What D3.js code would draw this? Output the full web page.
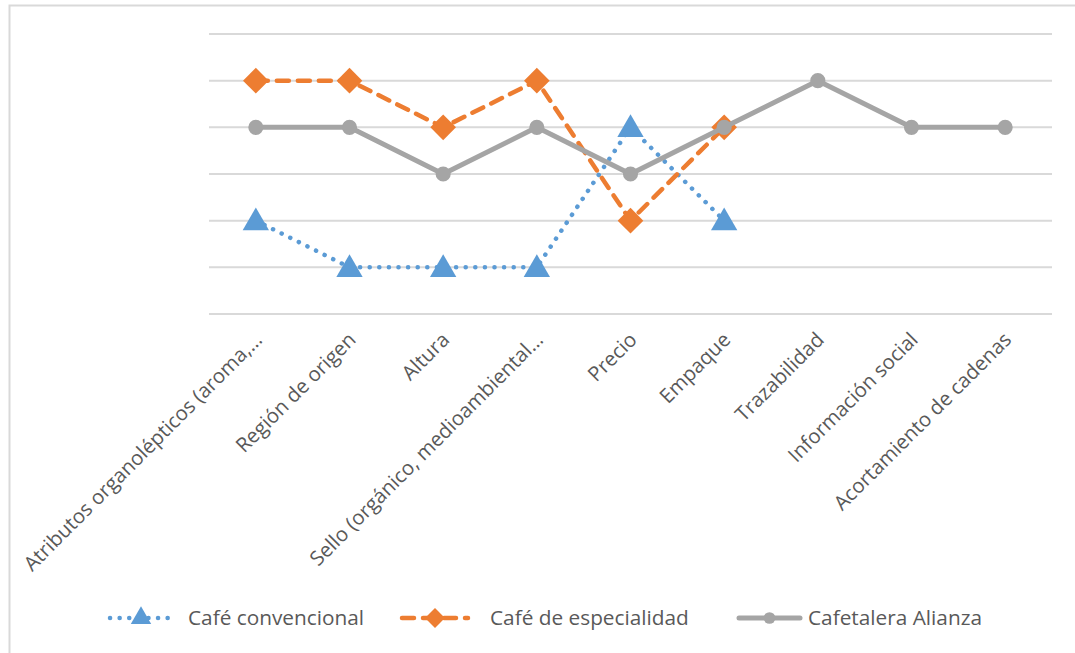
<!DOCTYPE html>
<html>
<head>
<meta charset="utf-8">
<script src="https://cdn.jsdelivr.net/npm/d3@7"></script>
<style>
  body { margin: 0; background: #fff; }
  text { font-family: "Open Sans", sans-serif; fill: #595959; }
</style>
</head>
<body>
<svg id="chart" width="1075" height="653"></svg>
<script>
// categories along the x axis
const categories = [
  "Atributos organolépticos (aroma,…",
  "Región de origen",
  "Altura",
  "Sello (orgánico, medioambiental…",
  "Precio",
  "Empaque",
  "Trazabilidad",
  "Información social",
  "Acortamiento de cadenas"
];

// series values (null = no value)
const convencional = [2, 1, 1, 1, 4, 2, null, null, null];
const especialidad = [5, 5, 4, 5, 2, 4, null, null, null];
const alianza = [4, 4, 3, 4, 3, 4, 5, 4, 4];

const yTicks = [0, 1, 2, 3, 4, 5, 6];

const series = [
  { name: "Café convencional", values: convencional, color: "#5B9BD5", dash: "0.1 9.5", width: 4.5, symbol: d3.symbolTriangle, size: 300 },
  { name: "Café de especialidad", values: especialidad, color: "#ED7D31", dash: "12 9", width: 4.5, symbol: d3.symbolDiamond2, size: 420 },
  { name: "Cafetalera Alianza", values: alianza, color: "#A5A5A5", dash: null, width: 5, symbol: d3.symbolCircle, size: 180 }
];

const svg = d3.select("#chart");

// outer chart frame
svg.append("path")
    .attr("d", "M9.5,653 V5.5 H1075")
    .attr("fill", "none")
    .attr("stroke", "#D9D9D9")
    .attr("stroke-width", 2);

const plotLeft = 209, plotRight = 1052, plotTop = 34, plotBottom = 314;

const x = d3.scalePoint()
    .domain(categories)
    .range([plotLeft, plotRight])
    .padding(0.5);

const y = d3.scaleLinear()
    .domain([0, 6])
    .range([plotBottom, plotTop]);

// gridlines
svg.append("g")
  .selectAll("line")
  .data(yTicks)
  .join("line")
    .attr("x1", plotLeft)
    .attr("x2", plotRight)
    .attr("y1", d => y(d))
    .attr("y2", d => y(d))
    .attr("stroke", "#D9D9D9")
    .attr("stroke-width", 2);

// x axis labels (rotated)
svg.append("g")
    .attr("transform", `translate(0, ${plotBottom})`)
    .call(d3.axisBottom(x).tickSize(0).tickPadding(0))
    .call(g => g.select(".domain").remove())
    .call(g => g.selectAll(".tick text")
      .attr("transform", "translate(2, 22) rotate(-45)")
      .attr("text-anchor", "end")
      .attr("dy", "0.35em")
      .attr("font-size", 20.3)
      .attr("font-family", "Open Sans, sans-serif")
      .attr("fill", "#595959"));

const line = d3.line()
    .defined(d => d != null)
    .x((d, i) => x(categories[i]))
    .y(d => y(d));

series.forEach(s => {
  svg.append("path")
      .datum(s.values)
      .attr("fill", "none")
      .attr("stroke", s.color)
      .attr("stroke-width", s.width)
      .attr("stroke-linecap", "round")
      .attr("stroke-linejoin", "round")
      .attr("stroke-dasharray", s.dash)
      .attr("d", line);

  svg.append("g")
    .selectAll("path")
    .data(s.values.map((v, i) => ({ v, c: categories[i] })).filter(d => d.v != null))
    .join("path")
      .attr("transform", d => `translate(${x(d.c)}, ${y(d.v) + (s.symbol === d3.symbolTriangle ? 2 : 0)})`)
      .attr("d", d3.symbol(s.symbol, s.size))
      .attr("fill", s.color);
});

// legend
const legendY = 618;
const legendItems = [
  { s: series[0], x0: 110, x1: 172, tx: 188 },
  { s: series[1], x0: 402, x1: 468, tx: 490 },
  { s: series[2], x0: 739, x1: 800, tx: 808 }
];

const legend = svg.append("g");
legendItems.forEach(it => {
  const g = legend.append("g");
  g.append("line")
      .attr("x1", it.x0).attr("x2", it.x1)
      .attr("y1", legendY).attr("y2", legendY)
      .attr("stroke", it.s.color)
      .attr("stroke-width", it.s.width)
      .attr("stroke-linecap", "round")
      .attr("stroke-dasharray", it.s.dash);
  g.append("path")
      .attr("transform", `translate(${(it.x0 + it.x1) / 2}, ${legendY})`)
      .attr("d", d3.symbol(it.s.symbol, it.s.size * 0.6))
      .attr("fill", it.s.color);
  g.append("text")
      .attr("x", it.tx)
      .attr("y", legendY)
      .attr("dy", "0.35em")
      .attr("font-size", 20.8)
      .text(it.s.name);
});
</script>
</body>
</html>
